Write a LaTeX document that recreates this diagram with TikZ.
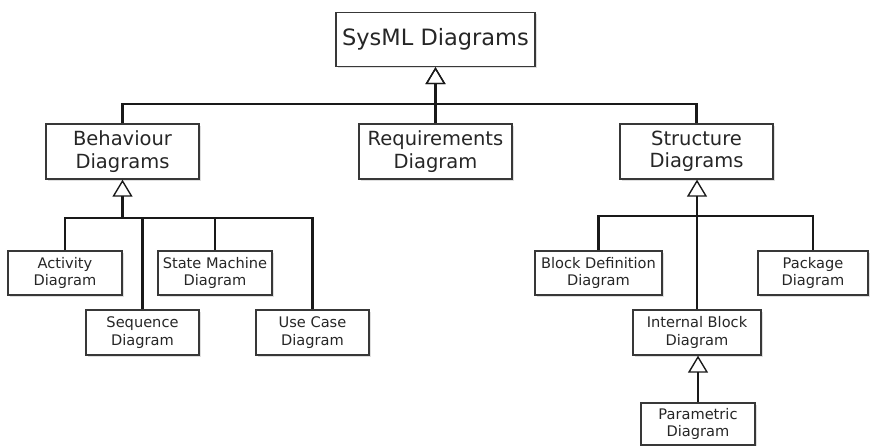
\documentclass[tikz,border=0pt]{standalone}
\usepackage{fontspec}
\setmainfont{DejaVu Sans}
\usetikzlibrary{arrows.meta,shadows}
\definecolor{ink}{HTML}{262626}
\definecolor{edge}{HTML}{383838}
\begin{document}
\begin{tikzpicture}[x=1pt,y=-1pt,
  box/.style={draw=edge, line width=1.3pt, fill=white, text=ink, align=center,
    inner sep=0pt, drop shadow={shadow xshift=1.5pt, shadow yshift=-1.5pt, opacity=0.25}},
  bigbox/.style={box, font=\fontsize{19.5}{22.5}\selectfont, minimum width=153pt, minimum height=55pt},
  smallbox/.style={box, font=\fontsize{14.6}{17.6}\selectfont, minimum height=44pt},
  link/.style={draw=black!90, line width=2.3pt},
  gen/.style={link, -{Triangle[open, width=20pt, length=17pt, line width=1.4pt]}}]
\useasboundingbox (0,0) rectangle (871,445);

% top level
\node[box, font=\fontsize{22.5}{26}\selectfont, minimum width=199pt, minimum height=54pt] (sysml) at (435.5,39.5) {SysML Diagrams};

% second level
\node[bigbox] (beh) at (122.5,151.5) {Behaviour\\Diagrams};
\node[bigbox] (req) at (435.5,151.5) {Requirements\\Diagram};
\node[bigbox] (str) at (696.5,151.5) {Structure\\Diagrams};

% behaviour diagrams
\node[smallbox, minimum width=114pt] (act) at (65,273) {Activity\\Diagram};
\node[smallbox, minimum width=114pt] (sm) at (215,273) {State Machine\\Diagram};
\node[smallbox, minimum width=113pt, minimum height=45pt] (seq) at (142.5,332.5) {Sequence\\Diagram};
\node[smallbox, minimum width=113pt, minimum height=45pt] (uc) at (312.5,332.5) {Use Case\\Diagram};

% structure diagrams
\node[smallbox, minimum width=127pt] (bdd) at (598.5,273) {Block Definition\\Diagram};
\node[smallbox, minimum width=110pt] (pkg) at (813,273) {Package\\Diagram};
\node[smallbox, minimum width=128pt, minimum height=45pt] (ibd) at (697,332.5) {Internal Block\\Diagram};
\node[smallbox, minimum width=114pt, minimum height=42pt] (par) at (698,424) {Parametric\\Diagram};

% bus junctions
\coordinate (topbus) at (435.5,104);
\coordinate (behbus) at (122.5,218);
\coordinate (strbus) at (697,216);

% generalisations into SysML Diagrams
\draw[link] (beh.north) |- (topbus) -| (str.north);
\draw[gen] (req.north) -- (sysml.south);
\draw[gen] (topbus) -- (topbus |- sysml.south);

% generalisations into Behaviour Diagrams
\draw[link] (act.north) |- (uc.north |- behbus) -- (uc.north);
\draw[link] (seq.north) -- (seq.north |- behbus);
\draw[link] (sm.north) -- (sm.north |- behbus);
\draw[gen] (behbus) -- (beh.south);

% generalisations into Structure Diagrams
\draw[link] (bdd.north) |- (pkg.north |- strbus) -- (pkg.north);
\draw[gen] (ibd.north) -- (ibd.north |- str.south);

% Parametric specialises Internal Block
\draw[gen] (par.north) -- (par.north |- ibd.south);
\end{tikzpicture}
\end{document}
